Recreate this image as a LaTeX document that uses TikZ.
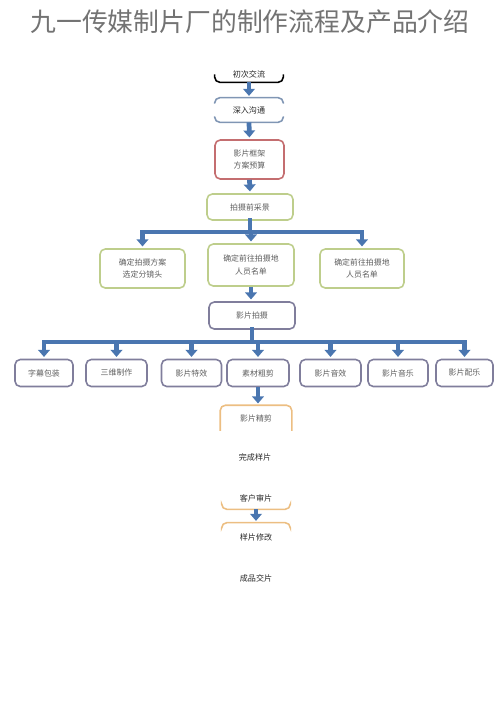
\documentclass[tikz,border=0pt]{standalone}
\usepackage{fontspec}
\setmainfont{Noto Sans CJK SC}
\usetikzlibrary{arrows.meta,calc}

\definecolor{flowblue}{RGB}{74,118,176}
\definecolor{talkblue}{RGB}{128,150,180}
\definecolor{framered}{RGB}{196,110,112}
\definecolor{scoutgreen}{RGB}{190,206,140}
\definecolor{shootgrey}{RGB}{128,126,156}
\definecolor{cutorange}{RGB}{236,190,130}
\definecolor{textgrey}{RGB}{95,95,95}

\def\px{0.02cm}
\tikzset{
  box/.style={draw, rounded corners=3pt, line width=0.9pt, fill=white, align=center,
    font=\fontsize{4.5}{7}\selectfont, text=textgrey, inner sep=0pt},
  flow/.style={-{Triangle[width=6.6pt,length=4pt]}, line width=2.7pt, flowblue, shorten >=1pt},
  bar/.style={line width=2.7pt, flowblue, line cap=rect},
  lip/.style={line width=0.9pt, rounded corners=3pt},
  plain/.style={font=\fontsize{4.6}{7}\selectfont, text=black!85, inner sep=0pt}
}

\begin{document}
\begin{tikzpicture}[x=0.02cm, y=-0.02cm]
\useasboundingbox (0,0) rectangle (500,708);

% Title
\node (title) at (250,22) {\fontsize{14.7}{16}\selectfont\color{black!55}九一传媒制片厂的制作流程及产品介绍};

% First talks
\node[plain, minimum width=68*\px, minimum height=16*\px] (talk1) at (249,74) {初次交流};
\draw[lip, black] ($(talk1.south west)+(0,-8)$) -- (talk1.south west) -- (talk1.south east) -- ($(talk1.south east)+(0,-8)$);

\node[plain, minimum width=68*\px, minimum height=24*\px] (talk2) at (249,110) {深入沟通};
\draw[lip, talkblue] ($(talk2.north west)+(0,6)$) -- (talk2.north west) -- (talk2.north east) -- ($(talk2.north east)+(0,6)$);
\draw[lip, talkblue] ($(talk2.south west)+(0,-6)$) -- (talk2.south west) -- (talk2.south east) -- ($(talk2.south east)+(0,-6)$);

% Planning
\node[box, draw=framered, minimum width=69*\px, minimum height=39*\px] (frame) at (249.5,159.5) {影片框架\\方案预算};
\node[box, draw=scoutgreen, minimum width=86*\px, minimum height=26*\px] (scout) at (250,207) {拍摄前采景};

\node[box, draw=scoutgreen, minimum width=85*\px, minimum height=39*\px] (plan1) at (142.5,268.5) {确定拍摄方案\\选定分镜头};
\node[box, draw=scoutgreen, minimum width=86*\px, minimum height=42*\px] (plan2) at (251,265) {确定前往拍摄地\\人员名单};
\node[box, draw=scoutgreen, minimum width=84*\px, minimum height=39*\px] (plan3) at (362,268.5) {确定前往拍摄地\\人员名单};

% Shooting
\node[box, draw=shootgrey, minimum width=86*\px, minimum height=27*\px] (shoot) at (252,315.5) {影片拍摄};

% Post production
\node[box, draw=shootgrey, minimum width=58*\px, minimum height=27*\px] (e1) at (44,373) {字幕包装};
\node[box, draw=shootgrey, minimum width=61*\px, minimum height=27*\px] (e2) at (116.5,373) {三维制作};
\node[box, draw=shootgrey, minimum width=60*\px, minimum height=27*\px] (e3) at (191.5,373) {影片特效};
\node[box, draw=shootgrey, minimum width=62*\px, minimum height=27*\px] (e4) at (258,373) {素材粗剪};
\node[box, draw=shootgrey, minimum width=61*\px, minimum height=27*\px] (e5) at (330.5,373) {影片音效};
\node[box, draw=shootgrey, minimum width=60*\px, minimum height=27*\px] (e6) at (398,373) {影片音乐};
\node[box, draw=shootgrey, minimum width=57*\px, minimum height=27*\px] (e7) at (464.5,373) {影片配乐};

% Fine cut and delivery
\node[box, draw=none, minimum width=70*\px, minimum height=24*\px] (fine) at (256,418) {影片精剪};
\draw[lip, cutorange] (fine.south west) -- (fine.north west) -- (fine.north east) -- (fine.south east);

\node[plain] (sample) at (255,457) {完成样片};

\node[plain, minimum width=68*\px, minimum height=22*\px] (review) at (256,498) {客户审片};
\draw[lip, cutorange] ($(review.south west)+(0,-5)$) -- (review.south west) -- (review.south east) -- ($(review.south east)+(0,-5)$);

\node[plain, minimum width=68*\px, minimum height=28*\px] (revise) at (256,537) {样片修改};
\draw[lip, cutorange] ($(revise.north west)+(0,5)$) -- (revise.north west) -- (revise.north east) -- ($(revise.north east)+(0,5)$);

\node[plain] (final) at (256,578) {成品交片};

% Arrows
\draw[flow] (talk1.south) -- (talk2.north);
\draw[flow] (talk2.south) -- (frame.north);
\draw[flow] (frame.south) -- (scout.north);

\coordinate (bar1) at (250,232);
\draw[bar] (scout.south) -- (scout.south |- bar1);
\draw[bar] (bar1 -| plan1.north) -- (bar1 -| plan3.north);
\foreach \n in {plan1,plan2,plan3}
  \draw[flow] (bar1 -| \n.north) -- (\n.north);

\draw[flow] (plan2.south) -- (plan2.south |- shoot.north);

\coordinate (bar2) at (250,342);
\draw[bar] (shoot.south) -- (shoot.south |- bar2);
\draw[bar] (bar2 -| e1.north) -- (bar2 -| e7.north);
\foreach \n in {e1,e2,e3,e4,e5,e6,e7}
  \draw[flow] (bar2 -| \n.north) -- (\n.north);

\draw[flow] (e4.south) -- (e4.south |- fine.north);
\draw[flow] (review.south) -- (review.south |- revise.north);
\end{tikzpicture}
\end{document}
